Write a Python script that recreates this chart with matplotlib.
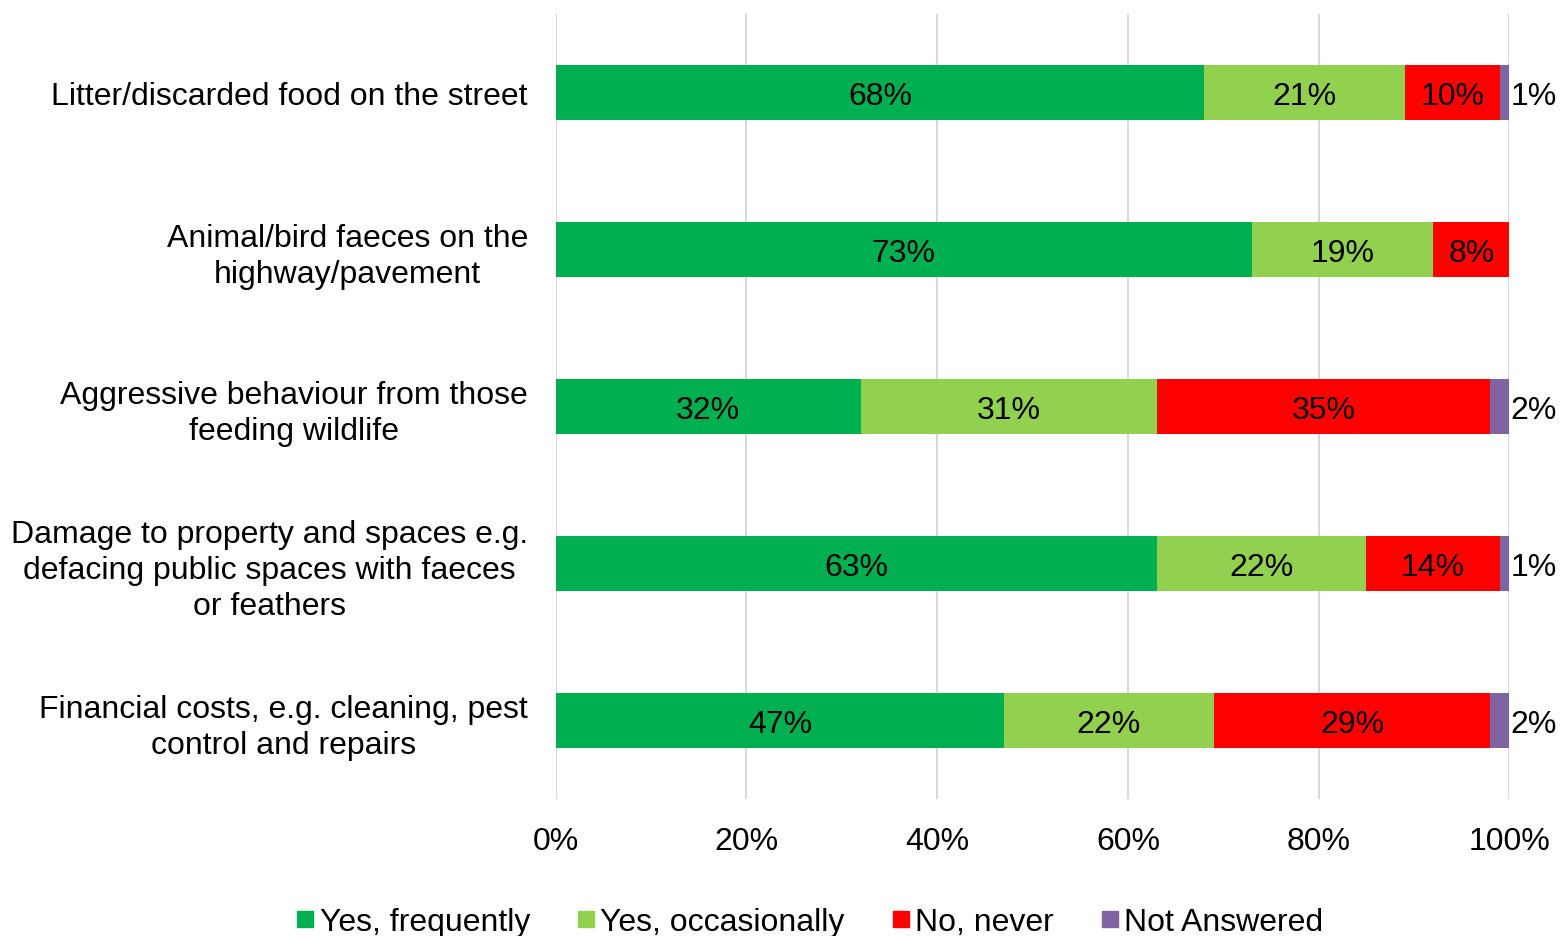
import numpy as np
import matplotlib.pyplot as plt
from matplotlib.lines import Line2D

plt.rcParams['font.family'] = ['Liberation Sans', 'DejaVu Sans']

# Survey categories (top to bottom)
categories = [
    "Litter/discarded food on the street",
    "Animal/bird faeces on the\nhighway/pavement",
    "Aggressive behaviour from those\nfeeding wildlife",
    "Damage to property and spaces e.g.\ndefacing public spaces with faeces\nor feathers",
    "Financial costs, e.g. cleaning, pest\ncontrol and repairs",
]

# Response shares in percent
yes_frequently = [68, 73, 32, 63, 47]
yes_occasionally = [21, 19, 31, 22, 22]
no_never = [10, 8, 35, 14, 29]
not_answered = [1, 0, 2, 1, 2]

series_names = ["Yes, frequently", "Yes, occasionally", "No, never", "Not Answered"]
series_colors = ["#00B050", "#92D050", "#FF0000", "#8064A2"]
series_values = [yes_frequently, yes_occasionally, no_never, not_answered]

FS = 23

fig = plt.figure(figsize=(15.61, 9.37), dpi=100)
ax = fig.add_axes([0.356, 0.146, 0.611, 0.838])

y = np.arange(len(categories))
left = np.zeros(len(categories))
for name, color, vals in zip(series_names, series_colors, series_values):
    vals = np.array(vals, dtype=float)
    ax.barh(y, vals, left=left, height=0.35, color=color, label=name, zorder=2)
    for yi, l, v in zip(y, left, vals):
        if v <= 0:
            continue
        # small shares get their label just outside the bar end
        if v >= 5:
            ax.text(l + v / 2, yi, f"{v:.0f}%", ha='center', va='center_baseline',
                    fontsize=FS, color='black', zorder=3)
        else:
            ax.text(l + v + 0.1, yi, f"{v:.0f}%", ha='left', va='center_baseline',
                    fontsize=FS, color='black', zorder=3)
    left += vals

ax.set_xlim(0, 100)
ax.set_ylim(len(categories) - 0.5, -0.5)
ax.set_xticks(np.arange(0, 101, 20))
ax.set_xticklabels([f"{t}%" for t in range(0, 101, 20)], fontsize=FS)
ax.set_yticks(y)
ax.set_yticklabels(categories, fontsize=FS, multialignment='center',
                   linespacing=1.25)
ax.tick_params(axis='both', length=0)
ax.tick_params(axis='x', pad=19)
ax.tick_params(axis='y', pad=20)
ax.grid(axis='x', color='#D9D9D9', linewidth=1.5, zorder=0)
ax.set_axisbelow(True)
for s in ax.spines.values():
    s.set_visible(False)

handles = [Line2D([], [], marker='s', linestyle='none', markersize=11,
                  markerfacecolor=c, markeredgecolor=c) for c in series_colors]
fig.legend(handles, series_names, loc='center', bbox_to_anchor=(0.517, 0.015),
           ncol=4, frameon=False, fontsize=FS, handletextpad=0.0,
           columnspacing=1.3, handlelength=0.9)

fig.savefig("out.png", dpi=100, facecolor='white')
